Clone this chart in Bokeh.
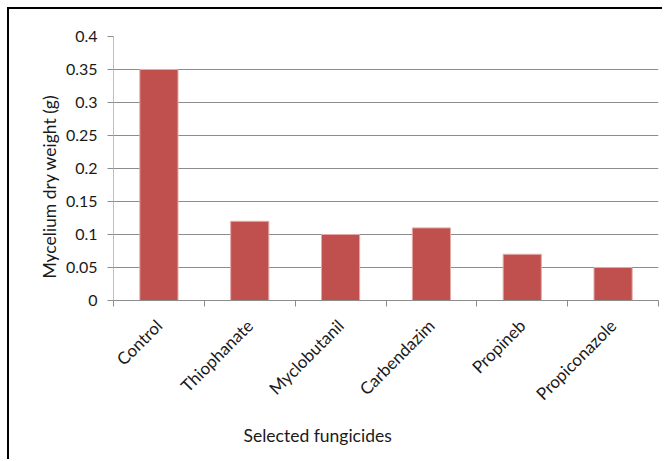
import math

from bokeh.embed import file_html
from bokeh.models import CustomJSTickFormatter, FixedTicker, Range1d, Title
from bokeh.plotting import figure
from bokeh.resources import INLINE

# Mycelium dry weight for each fungicide treatment
fungicides = ["Control", "Thiophanate", "Myclobutanil", "Carbendazim", "Propineb", "Propiconazole"]
dry_weight = [0.35, 0.12, 0.10, 0.11, 0.07, 0.05]
y_ticks = [0, 0.05, 0.1, 0.15, 0.2, 0.25, 0.3, 0.35, 0.4]

FONT = "Lato"
TEXT = "#1a1a1a"
BAR = "#C0504D"
GRID = "#8C8C8C"

n = len(fungicides)
centers = [i + 0.5 for i in range(n)]

p = figure(width=655, height=452, output_backend="svg", toolbar_location=None,
           x_range=Range1d(0, n), y_range=Range1d(0, 0.4),
           min_border_left=104, min_border_right=6, min_border_top=27, min_border_bottom=161)
p.outline_line_color = None
p.background_fill_color = "white"
p.border_fill_color = "white"
# black frame on the top and left edges of the chart
p.styles = {"margin-left": "7px", "margin-top": "7px",
            "border-left": "2px solid black", "border-top": "2px solid black"}

p.vbar(x=centers, top=dry_weight, width=0.42, bottom=0,
       fill_color=BAR, line_color="#E3A9A7", line_width=1)

# x axis: labels at category centres, ticks at category boundaries
xa = p.xaxis[0]
xa.ticker = FixedTicker(ticks=centers, minor_ticks=list(range(n + 1)))
xa.major_label_overrides = {c: name for c, name in zip(centers, fungicides)}
xa.major_label_orientation = math.pi / 4
xa.major_tick_line_color = None
xa.major_tick_out = 0
xa.major_tick_in = 0
xa.minor_tick_out = 6
xa.minor_tick_in = 0
xa.minor_tick_line_color = GRID
xa.axis_line_color = GRID
xa.major_label_standoff = 16
xa.major_label_text_font = FONT
xa.major_label_text_font_size = "17px"
xa.major_label_text_color = TEXT

ya = p.yaxis[0]
ya.ticker = FixedTicker(ticks=y_ticks)
ya.formatter = CustomJSTickFormatter(
    code="return tick.toFixed(2).replace(/0+$/, '').replace(/\\.$/, '');")
ya.axis_line_color = "#BEBEBE"
ya.major_tick_line_color = GRID
ya.major_tick_out = 6
ya.major_tick_in = 0
ya.minor_tick_line_color = None
ya.major_label_standoff = 10
ya.major_label_text_font = FONT
ya.major_label_text_font_size = "16px"
ya.major_label_text_color = TEXT

p.xgrid.grid_line_color = None
p.ygrid.ticker = FixedTicker(ticks=y_ticks)
p.ygrid.grid_line_color = GRID

p.add_layout(Title(text="Selected fungicides", align="left", offset=130, standoff=16,
                   text_font=FONT, text_font_size="17.5px", text_color=TEXT,
                   text_font_style="normal"), "below")
p.add_layout(Title(text="Mycelium dry weight (g)", align="left", offset=22, standoff=5,
                   text_font=FONT, text_font_size="17.5px", text_color=TEXT,
                   text_font_style="normal"), "left")

open("out.html", "w").write(file_html(p, INLINE))
